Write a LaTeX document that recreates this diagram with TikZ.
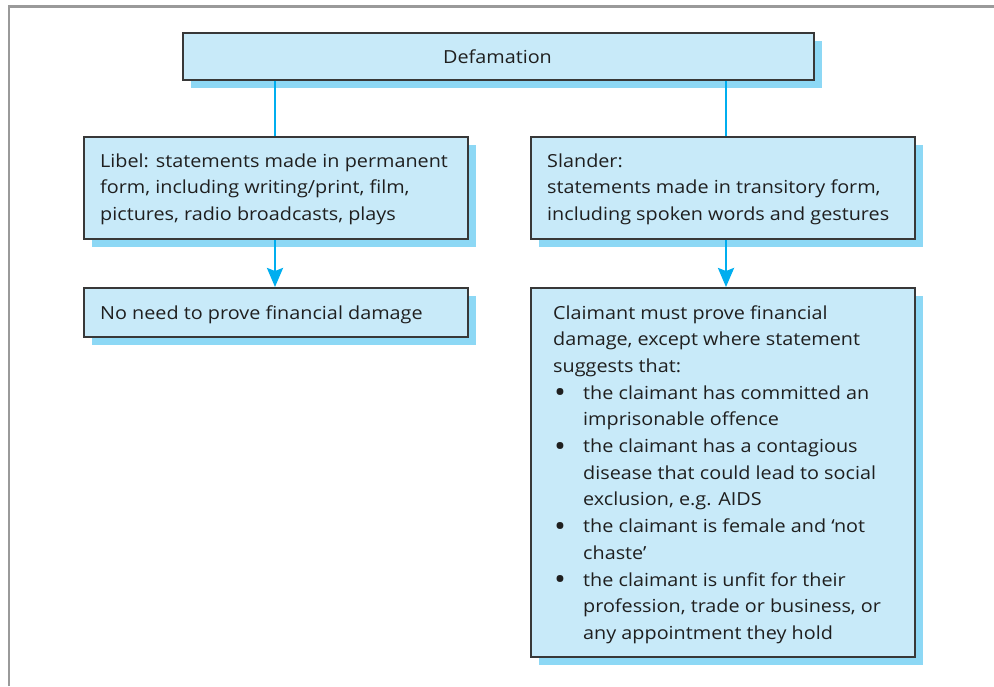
\documentclass[tikz,border=0pt]{standalone}
\usepackage{fontspec}
\setmainfont{Open Sans}[FakeStretch=1.1]
\usetikzlibrary{arrows.meta,shadows}
\definecolor{boxfill}{HTML}{C8EAF9}
\definecolor{shadowc}{HTML}{8DD8F5}
\definecolor{arrowc}{HTML}{00AEEF}
\definecolor{framec}{HTML}{9A9A9A}
\definecolor{edgec}{HTML}{383838}
\tikzset{
  box/.style={draw=edgec, line width=1.5pt, fill=boxfill, rectangle, anchor=north west, inner sep=0pt,
    drop shadow={fill=shadowc, opacity=1, shadow xshift=8pt, shadow yshift=-8pt}},
  txt/.style={anchor=base west, inner sep=0pt, text=black!88, font=\fontsize{18}{26.7}\selectfont},
  link/.style={draw=arrowc, line width=2.6pt},
  arr/.style={link, -{Stealth[length=19pt, width=16pt, inset=3pt]}},
}
\newcommand\bitem[1]{\hbox{\hbox to 30pt{\hspace*{1pt}\raisebox{-3.5pt}{\scalebox{1.6}{\textbullet}}\hss}#1}}
\newcommand\bcont[1]{\hbox{\hspace*{30pt}#1}}
\begin{document}
\begin{tikzpicture}[x=1pt,y=-1pt]
\useasboundingbox (0,0) rectangle (994,686);
\draw[framec, line width=2.4pt] (8.7,686) -- (8.7,6.5) coordinate (fr) -- (994,6.5);

\node[box, minimum width=631pt, minimum height=47pt] (def) at (182,32) {};
\node[box, minimum width=384pt, minimum height=102pt] (libel) at (83,136) {};
\node[box, minimum width=384pt, minimum height=102pt] (slander) at (530,136) {};
\node[box, minimum width=384pt, minimum height=49pt] (noneed) at (83,287) {};
\node[box, minimum width=384pt, minimum height=369pt] (claim) at (530,287) {};

\node[txt, anchor=base] (deft) at (497.5,63) {Defamation};
\node[txt] (libelt) at (100,167) {\vtop{%
  \hbox{Libel: statements made in permanent}
  \hbox{form, including writing/print, film,}
  \hbox{pictures, radio broadcasts, plays}}};
\node[txt] (slandert) at (547,167) {\vtop{%
  \hbox{Slander:}
  \hbox{statements made in transitory form,}
  \hbox{including spoken words and gestures}}};
\node[txt] (noneedt) at (100,319) {No need to prove financial damage};
\node[txt] (claimt) at (553,319) {\vtop{%
  \hbox{Claimant must prove financial}
  \hbox{damage, except where statement}
  \hbox{suggests that:}
  \bitem{the claimant has committed an}
  \bcont{imprisonable offence}
  \bitem{the claimant has a contagious}
  \bcont{disease that could lead to social}
  \bcont{exclusion, e.g. AIDS}
  \bitem{the claimant is female and ‘not}
  \bcont{chaste’}
  \bitem{the claimant is unfit for their}
  \bcont{profession, trade or business, or}
  \bcont{any appointment they hold}}};

\draw[link] (def.south -| 275,0) -- (libel.north -| 275,0);
\draw[link] (def.south -| 726,0) -- (slander.north -| 726,0);
\draw[arr] (libel.south -| 275,0) -- (noneed.north -| 275,0);
\draw[arr] (slander.south -| 726,0) -- (claim.north -| 726,0);
\end{tikzpicture}
\end{document}
